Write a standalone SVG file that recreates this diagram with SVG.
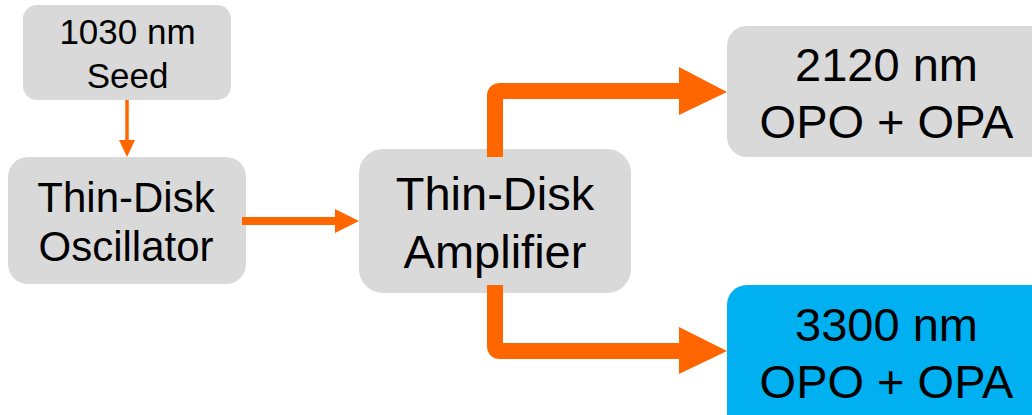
<svg xmlns="http://www.w3.org/2000/svg" width="1032" height="415" viewBox="0 0 1032 415">
<style>
.box{fill:#D9D9D9}
.blue{fill:#00B0F0}
.t{font-family:"Liberation Sans",Arial,sans-serif;fill:#000;text-anchor:middle}
.ln{stroke:#FF6600;fill:none}
.hd{fill:#FF6600}
</style>
<rect width="1032" height="415" fill="#FFFFFF"/>
<g id="seed">
<rect class="box" x="23" y="5" width="208" height="95" rx="14"/>
<text class="t" x="127.5" y="44" font-size="35">1030 nm</text>
<text class="t" x="127.5" y="88" font-size="35">Seed</text>
</g>
<g id="oscillator">
<rect class="box" x="8" y="157" width="238" height="127" rx="20"/>
<text class="t" x="126" y="212" font-size="42">Thin-Disk</text>
<text class="t" x="126" y="261" font-size="42">Oscillator</text>
</g>
<g id="amplifier">
<rect class="box" x="359" y="149" width="272" height="144" rx="24"/>
<text class="t" x="495" y="210" font-size="47">Thin-Disk</text>
<text class="t" x="495" y="268" font-size="47">Amplifier</text>
</g>
<g id="opo2120">
<rect class="box" x="727" y="26" width="330" height="131" rx="20"/>
<text class="t" x="886.5" y="81" font-size="47">2120 nm</text>
<text class="t" x="886.5" y="138" font-size="47">OPO + OPA</text>
</g>
<g id="opo3300">
<rect class="blue" x="727" y="285" width="330" height="150" rx="20"/>
<text class="t" x="886.5" y="341" font-size="47">3300 nm</text>
<text class="t" x="886.5" y="398" font-size="47">OPO + OPA</text>
</g>
<g id="connectors">
<line class="ln" x1="127" y1="100" x2="127" y2="141" stroke-width="3.5"/>
<polygon class="hd" points="119,140 135,140 127,157"/>
<line class="ln" x1="242" y1="221" x2="336" y2="221" stroke-width="8"/>
<polygon class="hd" points="335,209 359,221 335,233"/>
<path class="ln" d="M495,157 V96 Q495,91 500,91 H680" stroke-width="16"/>
<polygon class="hd" points="679,67 727,92 679,115"/>
<path class="ln" d="M495,285 V346 Q495,351 500,351 H680" stroke-width="16"/>
<polygon class="hd" points="679,327 727,351 679,374"/>
</g>
</svg>
